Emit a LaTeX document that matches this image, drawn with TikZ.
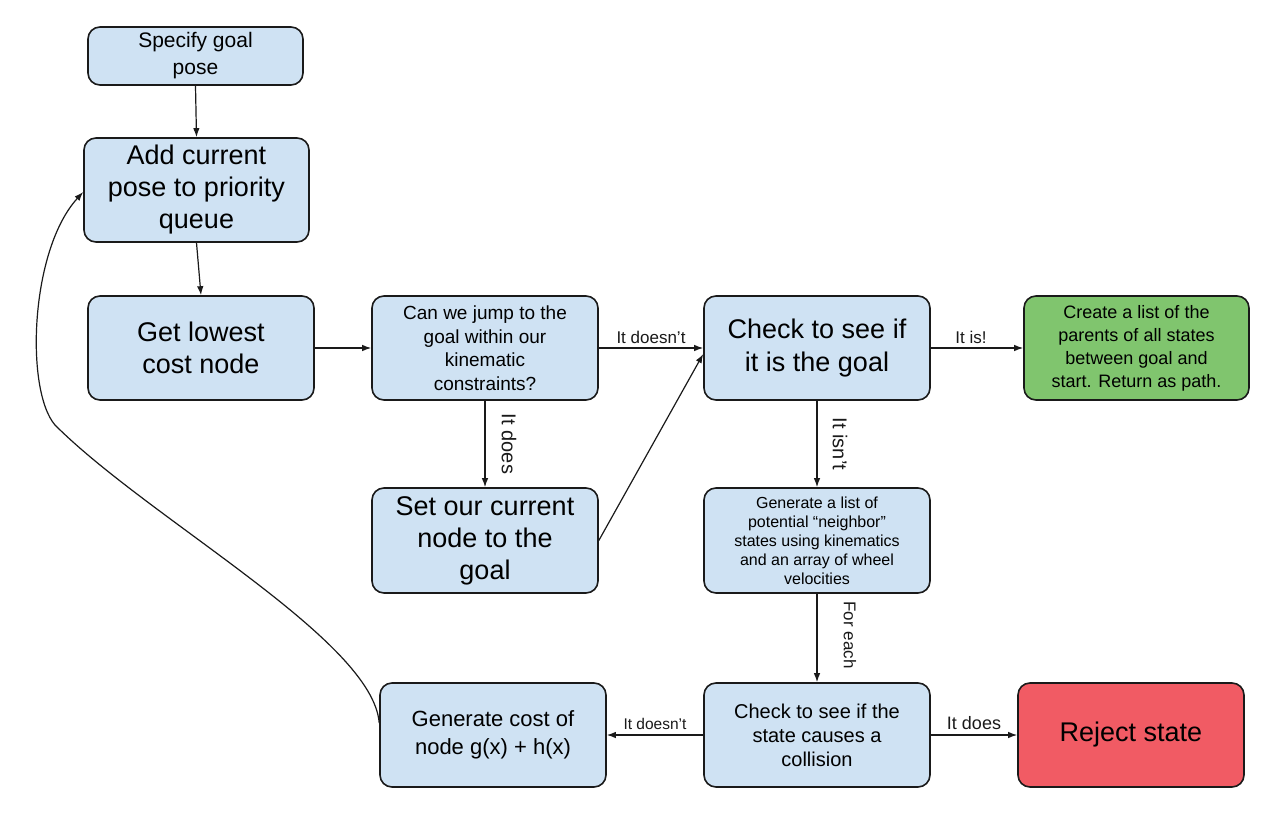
\documentclass[tikz,border=0pt]{standalone}
\usepackage{fontspec}
\setmainfont{Liberation Sans}
\usetikzlibrary{arrows.meta,calc}
\definecolor{boxblue}{HTML}{CFE2F3}
\definecolor{boxgreen}{HTML}{80C56E}
\definecolor{boxred}{HTML}{F15B64}
\definecolor{boxline}{HTML}{1A1A1A}
\newcommand\myfs[2]{\fontsize{#1}{#2}\selectfont}
\begin{document}
\begin{tikzpicture}[x=1pt,y=-1pt,
  box/.style={draw=boxline, line width=1.6pt, rounded corners=12pt, fill=boxblue,
    align=center, inner sep=0pt, minimum width=226pt, minimum height=104pt},
  arr/.style={-{Latex[length=9pt,width=6.5pt]}, line width=1.2pt, draw=boxline},
  lbl/.style={inner sep=1pt, text=boxline}]
\useasboundingbox (0,0) rectangle (1272,824);
\fill[white] (0,0) rectangle (1272,824);

\node[box, minimum width=215pt, minimum height=58pt, font=\myfs{21}{27}] (specify) at (195.5,56) {Specify goal\\pose};
\node[box, minimum width=225pt, font=\myfs{27}{32}] (add) at (196.5,190) {Add current\\pose to priority\\queue};
\node[box, font=\myfs{27}{32}] (get) at (201,348) {Get lowest\\cost node};
\node[box, font=\myfs{19}{23.5}] (can) at (485,348) {Can we jump to the\\goal within our\\kinematic\\constraints?};
\node[box, font=\myfs{27}{33}] (check) at (817,348) {Check to see if\\it is the goal};
\node[box, fill=boxgreen, minimum width=225pt, font=\myfs{18}{23}] (path) at (1136.5,348) {Create a list of the\\parents of all states\\between goal and\\start. Return as path.};
\node[box, minimum height=105pt, font=\myfs{27}{32}] (set) at (485,540.5) {Set our current\\node to the\\goal};
\node[box, minimum height=105pt, font=\myfs{16}{19}] (gen) at (817,540.5) {Generate a list of\\potential “neighbor”\\states using kinematics\\and an array of wheel\\velocities};
\node[box, font=\myfs{20}{24}] (coll) at (817,735) {Check to see if the\\state causes a\\collision};
\node[box, fill=boxred, font=\myfs{27}{32}] (reject) at (1131,735) {Reject state};
\node[box, font=\myfs{22}{28}] (cost) at (493,735) {Generate cost of\\node g(x) + h(x)};

\draw[arr] (specify.south) -- (add.north);
\draw[arr] (add.south) -- (get.north);
\draw[arr] (get.east) -- (can.west);
\draw[arr] (can.east) -- node[lbl, above=3pt, font=\myfs{17}{20}] {It doesn’t} (check.west);
\draw[arr] (can.south) -- node[lbl, right=15pt, font=\myfs{20}{24}] {\rotatebox{-90}{It does}} (set.north);
\draw[arr] (set.east) -- ([yshift=-6pt]check.west);
\draw[arr] (check.east) -- node[lbl, above=3pt, xshift=-6pt, font=\myfs{17}{20}] {It is!} (path.west);
\draw[arr] (check.south) -- node[lbl, right=14pt, font=\myfs{20}{24}] {\rotatebox{-90}{It isn’t}} (gen.north);
\draw[arr] (gen.south) -- node[lbl, right=25pt, yshift=3pt, font=\myfs{17}{20}] {\rotatebox{-90}{For each}} (coll.north);
\draw[arr] (coll.west) -- node[lbl, above=4pt, font=\myfs{15.5}{18}] {It doesn’t} (cost.east);
\draw[arr] (coll.east) -- node[lbl, above=4pt, font=\myfs{18}{20}] {It does} (reject.west);
\draw[arr] ([yshift=12pt]cost.west) .. controls (373,640) and (150,520) .. (55,425)
  .. controls (25,390) and (30,250) .. ([yshift=-2pt]add.west);
\end{tikzpicture}
\end{document}
